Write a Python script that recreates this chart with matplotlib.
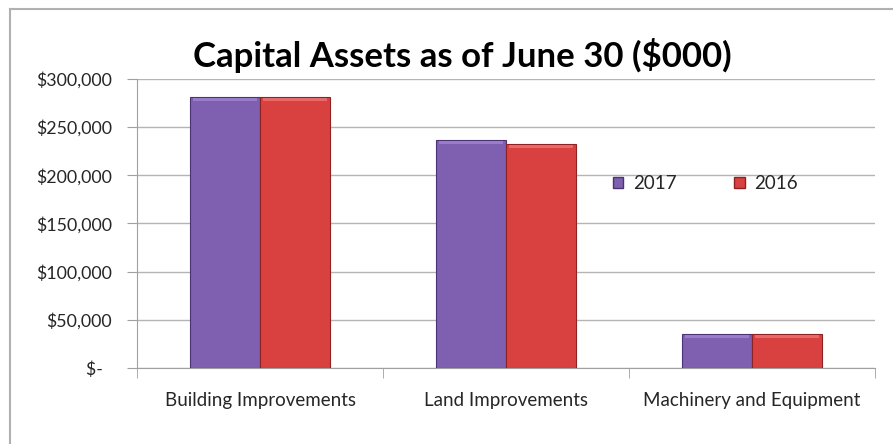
import numpy as np
import matplotlib
matplotlib.use('Agg')
import matplotlib.pyplot as plt
from matplotlib.lines import Line2D
from matplotlib.patches import Patch

categories = ['Building Improvements', 'Land Improvements', 'Machinery and Equipment']
series_names = ['2017', '2016']
values_2017 = [281000, 236500, 35500]
values_2016 = [281000, 232500, 35500]
y_ticks = [0, 50000, 100000, 150000, 200000, 250000, 300000]
y_tick_labels = ['$-  ', '$50,000', '$100,000', '$150,000', '$200,000', '$250,000', '$300,000']

plt.rcParams['font.family'] = ['Lato', 'DejaVu Sans']

fig = plt.figure(figsize=(8.93, 4.44), dpi=100)
ax = fig.add_axes([0.1534, 0.1712, 0.8266, 0.6509])

colors = {'2017': ('#7F5FAF', '#4B3273', '#A58AD6'),
          '2016': ('#D94141', '#8E2222', '#F07A7A')}
width = 0.285
x = np.arange(len(categories))
for name, vals, off in [('2017', values_2017, -width / 2), ('2016', values_2016, width / 2)]:
    face, edge, light = colors[name]
    ax.bar(x + off, vals, width, color=face, edgecolor=edge, linewidth=0.8, zorder=3)
    # bevel highlight at the top of each bar
    ax.bar(x + off, [3000] * len(vals), width * 0.92, bottom=np.array(vals) - 4000,
           color=light, linewidth=0, zorder=4, alpha=0.7)

ax.set_xlim(-0.5, 2.5)
ax.set_ylim(0, 300000)
ax.set_yticks(y_ticks)
ax.set_yticklabels(y_tick_labels)
ax.set_xticks(x)
ax.set_xticklabels(categories)
ax.set_xticks([-0.5, 0.5, 1.5, 2.5], minor=True)
ax.tick_params(axis='x', which='major', length=0, pad=17, labelsize=13.5, labelcolor='#262626')
ax.tick_params(axis='x', which='minor', length=7, color='#A0A0A0', direction='out')
ax.tick_params(axis='y', length=7, color='#A0A0A0', pad=11, labelsize=12.8, labelcolor='#262626')
ax.grid(axis='y', color='#B4B4B4', linewidth=1, zorder=0)
for s in ['top', 'right']:
    ax.spines[s].set_visible(False)
for s in ['left', 'bottom']:
    ax.spines[s].set_color('#A0A0A0')

handles = [Patch(facecolor=colors[n][0], edgecolor=colors[n][1], label=n) for n in series_names]
ax.legend(handles=handles, loc='center left', bbox_to_anchor=(0.622, 0.637), ncol=2,
          frameon=False, fontsize=13.5, handlelength=0.55, handleheight=0.55,
          handletextpad=0.5, columnspacing=3.1, labelcolor='#262626')

fig.text(0.518, 0.876, 'Capital Assets as of June 30 ($000)', ha='center', va='center',
         fontsize=25, fontweight='bold')

# outer chart frame (left and top edges visible)
fig.add_artist(Line2D([0.0112, 0.0112], [0, 0.98], color='#B0B0B0', linewidth=1.5))
fig.add_artist(Line2D([0.0112, 1.0], [0.98, 0.98], color='#B0B0B0', linewidth=1.5))

fig.savefig('out.png', dpi=100)
